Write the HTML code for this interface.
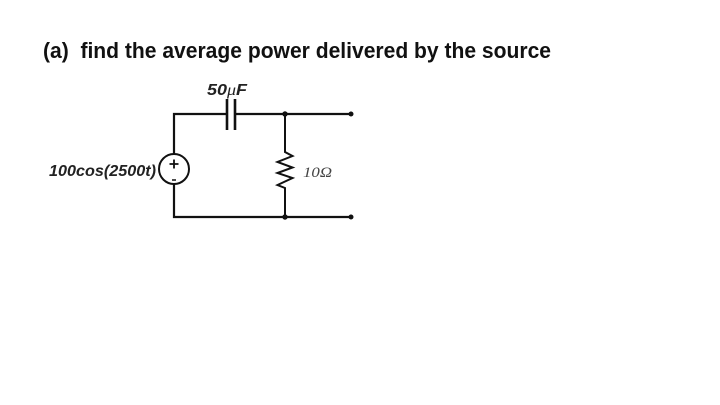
<!DOCTYPE html>
<html>
<head>
<meta charset="utf-8">
<style>
html,body{margin:0;padding:0;background:#fff;width:720px;height:405px;overflow:hidden}
svg{display:block}
</style>
</head>
<body>
<svg width="720" height="405" viewBox="0 0 720 405" xmlns="http://www.w3.org/2000/svg">
<rect width="720" height="405" fill="#fff"/>
<text x="43" y="58" font-family="'Liberation Sans',sans-serif" font-size="22" font-weight="bold" fill="#111" textLength="508" lengthAdjust="spacingAndGlyphs" xml:space="preserve">(a)  find the average power delivered by the source</text>
<g fill="none" stroke="#111" stroke-linejoin="miter">
<path d="M174 154V114H227" stroke-width="2.200"/>
<path d="M235 114H351" stroke-width="2.200"/>
<path d="M174 184V217H351" stroke-width="2.200"/>
<path d="M227 99V130M235 99V130" stroke-width="2.600"/>
<path d="M285 114V152L292.500 156L277.500 162L292.500 167.500L277.500 173L292.500 178L277.500 185L285 188V217" stroke-width="2"/>
<circle cx="174" cy="169" r="15" stroke-width="2"/>
<path d="M169.500 164H178.500M174 159.500V168.500" stroke-width="1.800"/>
<path d="M172 180H176" stroke-width="1.500"/>
</g>
<g fill="#111">
<circle cx="285" cy="114" r="2.700"/>
<circle cx="351" cy="114" r="2.500"/>
<circle cx="285" cy="217" r="2.700"/>
<circle cx="351" cy="217" r="2.500"/>
</g>
<text x="49" y="176" font-family="'Liberation Sans',sans-serif" font-size="16" font-weight="bold" font-style="italic" fill="#222" textLength="107" lengthAdjust="spacingAndGlyphs">100cos(2500t)</text>
<text x="207" y="95" font-family="'Liberation Sans',sans-serif" font-size="16" font-weight="bold" font-style="italic" fill="#222" textLength="40" lengthAdjust="spacingAndGlyphs">50<tspan font-family="'Liberation Serif',serif" font-weight="normal">μ</tspan>F</text>
<text x="303" y="177" font-family="'Liberation Serif',serif" font-size="15" font-style="italic" fill="#444" textLength="29" lengthAdjust="spacingAndGlyphs">10Ω</text>
</svg>
</body>
</html>
